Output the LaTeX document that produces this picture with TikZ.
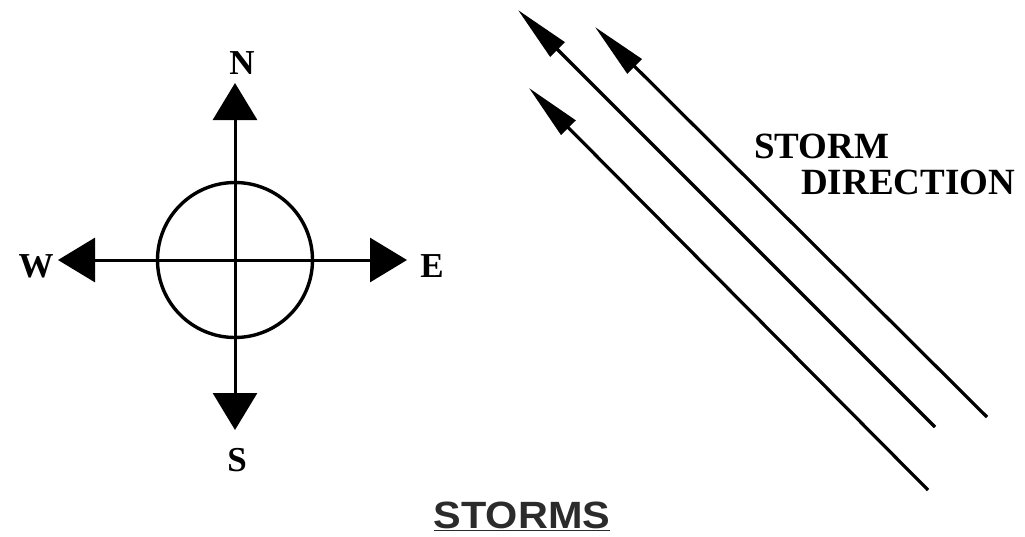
\documentclass[tikz,border=0pt]{standalone}
\usepackage{fontspec}
\setmainfont{Liberation Serif}
\setsansfont{Liberation Sans}
\usepackage{xcolor}
\usetikzlibrary{arrows.meta,positioning}
\definecolor{ink}{HTML}{000000}
\definecolor{title}{HTML}{2B2B2B}
\tikzset{
  pt/.style={x=1pt, y=-1pt},
  cmp/.style={{Triangle[length=37pt,width=44pt]}-{Triangle[length=37pt,width=44pt]}, draw=ink, line width=3pt},
  ring/.style={circle, draw=ink, line width=3.4pt, minimum size=155pt, inner sep=0pt},
  trk/.style={-{Triangle[length=56pt,width=20pt]}, draw=ink, line width=3.2pt},
  pole/.style={font=\fontsize{35}{35}\selectfont\bfseries, text=ink, inner sep=0pt},
  lbl/.style={font=\fontsize{37}{37}\selectfont\bfseries, text=ink, inner sep=0pt, anchor=west},
  ttl/.style={font=\fontsize{38}{38}\selectfont\sffamily\bfseries, text=title, inner sep=0pt}
}

\begin{document}
\begin{tikzpicture}[pt]
  \useasboundingbox (0,0) rectangle (1025,536);
  % compass
  \coordinate (c) at (235,260);
  \node[ring] (rim) at (c) {};
  \coordinate (ntip) at (235,83);
  \coordinate (stip) at (235,430);
  \coordinate (wtip) at (58,260);
  \coordinate (etip) at (407,260);
  \draw[cmp] (stip) -- (ntip);
  \draw[cmp] (wtip) -- (etip);
  \node[pole] (n) at (242,63) {N};
  \node[pole] (s) at (237,460) {S};
  \node[pole] (w) at (36,266) {W};
  \node[pole] (e) at (432,266) {E};
  % storm tracks
  \coordinate (t1) at (935,427);  \coordinate (h1) at (518,10);
  \coordinate (t2) at (987,417);  \coordinate (h2) at (595,27);
  \coordinate (t3) at (928,490);  \coordinate (h3) at (529,88);
  \foreach \i in {1,2,3} \draw[trk] (t\i) -- (h\i);
  \node[lbl] (sto) at (754,146) {STORM};
  \node[lbl] (dir) at (801,182) {DIRECTION};
  \node[ttl] (cap) at (522,516) {\scalebox{1.09}[1]{\underline{STORMS}}};
\end{tikzpicture}
\end{document}
